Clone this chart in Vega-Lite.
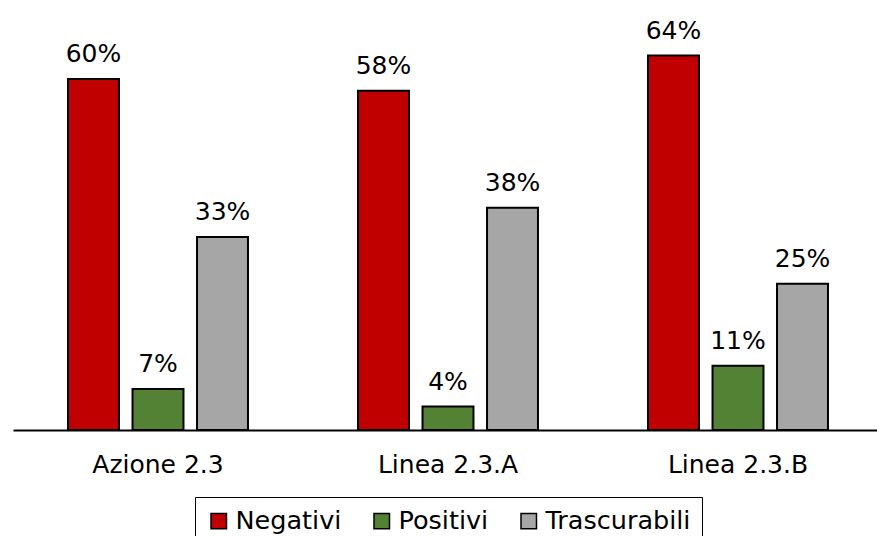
{
  "$schema": "https://vega.github.io/schema/vega-lite/v6.json",
  "width": 870,
  "height": 430,
  "autosize": {"type": "none"},
  "padding": {"left": 13, "top": 0, "right": 0, "bottom": 106},
  "background": "white",
  "config": {
    "font": "DejaVu Sans",
    "view": {"stroke": null}
  },
  "data": {
    "values": [
      {"gruppo": "Azione 2.3", "serie": "Negativi", "valore": 60, "etichetta": "60%"},
      {"gruppo": "Azione 2.3", "serie": "Positivi", "valore": 7, "etichetta": "7%"},
      {"gruppo": "Azione 2.3", "serie": "Trascurabili", "valore": 33, "etichetta": "33%"},
      {"gruppo": "Linea 2.3.A", "serie": "Negativi", "valore": 58, "etichetta": "58%"},
      {"gruppo": "Linea 2.3.A", "serie": "Positivi", "valore": 4, "etichetta": "4%"},
      {"gruppo": "Linea 2.3.A", "serie": "Trascurabili", "valore": 38, "etichetta": "38%"},
      {"gruppo": "Linea 2.3.B", "serie": "Negativi", "valore": 64, "etichetta": "64%"},
      {"gruppo": "Linea 2.3.B", "serie": "Positivi", "valore": 11, "etichetta": "11%"},
      {"gruppo": "Linea 2.3.B", "serie": "Trascurabili", "valore": 25, "etichetta": "25%"}
    ]
  },
  "encoding": {
    "x": {
      "field": "gruppo",
      "type": "nominal",
      "sort": ["Azione 2.3", "Linea 2.3.A", "Linea 2.3.B"],
      "scale": {"paddingInner": 0, "paddingOuter": 0},
      "axis": {
        "title": null,
        "labelAngle": 0,
        "ticks": false,
        "domainColor": "black",
        "domainWidth": 2,
        "labelFontSize": 25,
        "labelColor": "black",
        "labelPadding": 22
      }
    },
    "xOffset": {
      "field": "serie",
      "type": "nominal",
      "sort": ["Negativi", "Positivi", "Trascurabili"],
      "scale": {"paddingInner": 0.21, "paddingOuter": 0.853}
    },
    "y": {
      "field": "valore",
      "type": "quantitative",
      "scale": {"domain": [0, 73.5], "nice": false},
      "axis": null
    }
  },
  "layer": [
    {
      "mark": {"type": "bar", "stroke": "black", "strokeWidth": 2},
      "encoding": {
        "color": {
          "field": "serie",
          "type": "nominal",
          "sort": ["Negativi", "Positivi", "Trascurabili"],
          "scale": {
            "domain": ["Negativi", "Positivi", "Trascurabili"],
            "range": ["#C00000", "#548235", "#A6A6A6"]
          },
          "legend": {
            "title": null,
            "orient": "none",
            "legendX": 182,
            "legendY": 497,
            "direction": "horizontal",
            "symbolType": "square",
            "symbolSize": 240,
            "symbolStrokeColor": "black",
            "symbolStrokeWidth": 1.5,
            "symbolOpacity": 1,
            "labelFontSize": 25.5,
            "labelColor": "black",
            "labelOffset": 4,
            "columnPadding": 27,
            "strokeColor": "black",
            "padding": 11
          }
        }
      }
    },
    {
      "mark": {"type": "text", "baseline": "alphabetic", "dy": -17, "fontSize": 25, "color": "black"},
      "encoding": {
        "text": {"field": "etichetta"}
      }
    }
  ]
}
